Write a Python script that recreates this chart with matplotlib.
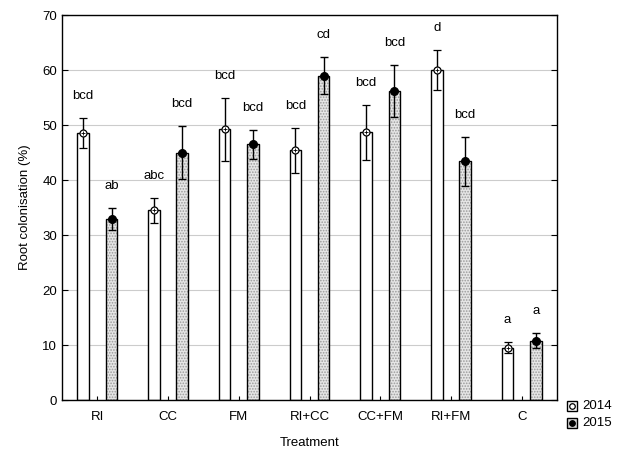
import matplotlib
matplotlib.use("Agg")
import matplotlib.pyplot as plt
import numpy as np
from matplotlib.patches import Rectangle
from matplotlib.lines import Line2D

categories = ["RI", "CC", "FM", "RI+CC", "CC+FM", "RI+FM", "C"]
mean_2014 = [48.6, 34.5, 49.2, 45.4, 48.7, 60.0, 9.5]
err_2014 = [2.7, 2.3, 5.8, 4.1, 5.0, 3.7, 1.0]
mean_2015 = [33.0, 45.0, 46.5, 59.0, 56.2, 43.4, 10.8]
err_2015 = [2.0, 4.9, 2.6, 3.3, 4.8, 4.5, 1.3]
letters_2014 = ["bcd", "abc", "bcd", "bcd", "bcd", "d", "a"]
letters_2015 = ["ab", "bcd", "bcd", "cd", "bcd", "bcd", "a"]

plt.rcParams['font.family'] = ['Liberation Sans', 'DejaVu Sans']
plt.rcParams['hatch.linewidth'] = 0.8
fig = plt.figure(figsize=(6.22, 4.5), dpi=100)
ax = fig.add_axes([0.0997, 0.111, 0.7958, 0.8556])

x = np.arange(len(categories))
off = 0.2
w = 0.165
ax.bar(x - off, mean_2014, w, color='white', edgecolor='black', linewidth=1, zorder=2)
ax.bar(x + off, mean_2015, w, color='#e6e6e6', edgecolor='#9a9a9a', hatch='......',
       linewidth=0, zorder=2)
ax.bar(x + off, mean_2015, w, fill=False, edgecolor='black', linewidth=1, zorder=2.5)
ax.errorbar(x - off, mean_2014, yerr=err_2014, fmt='o', mfc='white', mec='black', ms=5,
            mew=0.9, ecolor='black', elinewidth=1, capsize=3, capthick=1, zorder=3)
ax.plot(x - off, mean_2014, '+', color='black', ms=3, mew=0.6, zorder=4)
ax.errorbar(x + off, mean_2015, yerr=err_2015, fmt='o', mfc='black', mec='black', ms=5.5,
            ecolor='black', elinewidth=1, capsize=3, capthick=1, zorder=3)

for xi, m, e, t in zip(x - off, mean_2014, err_2014, letters_2014):
    ax.text(xi, m + e + 4, t, ha='center', va='center', fontsize=9.5)
for xi, m, e, t in zip(x + off, mean_2015, err_2015, letters_2015):
    ax.text(xi, m + e + 4, t, ha='center', va='center', fontsize=9.5)

ax.set_xlim(-0.5, 6.5)
ax.set_ylim(0, 70)
ax.set_yticks(range(0, 71, 10))
ax.set_xticks(x)
ax.set_xticklabels(categories, fontsize=9.5)
ax.tick_params(axis='y', labelsize=9.5, direction='in', length=4, right=True)
ax.tick_params(axis='x', direction='in', length=3, pad=8)
ax.yaxis.grid(True, color='#cccccc', linewidth=0.8, zorder=0)
ax.set_axisbelow(True)
for s in ax.spines.values():
    s.set_linewidth(1)
ax.set_xlabel("Treatment", fontsize=9.5, labelpad=10)
ax.set_ylabel("Root colonisation (%)", fontsize=9.5, labelpad=8)

# legend (manual, figure coords)
for yy, lab, fc, mf in [(406, "2014", 'white', 'white'), (423, "2015", '#dcdcdc', 'black')]:
    yf = 1 - yy / 450
    fig.patches.append(Rectangle((567/622, yf - 5/450), 10/622, 10/450, transform=fig.transFigure,
                                 facecolor=fc, edgecolor='black', linewidth=1))
    fig.lines.append(Line2D([572/622], [yf], transform=fig.transFigure, marker='o', ms=4,
                            mfc=mf, mec='black', mew=0.9, linestyle='none'))
    fig.text(582/622, yf, lab, fontsize=9.5, va='center', ha='left')

fig.savefig("out.png", dpi=100)
